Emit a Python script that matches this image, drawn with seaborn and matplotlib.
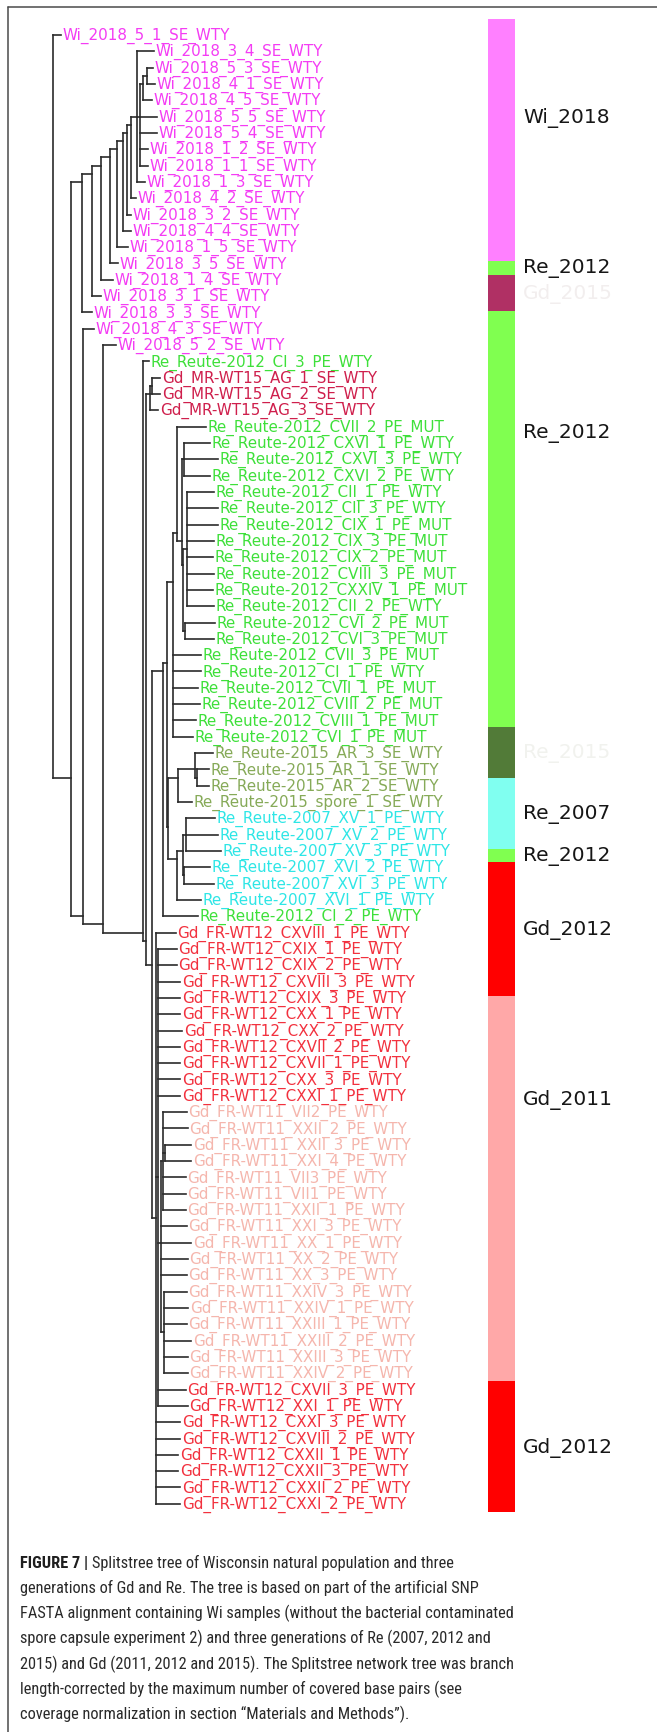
import numpy as np
import pandas as pd
import matplotlib
matplotlib.use("Agg")
import matplotlib.pyplot as plt
import seaborn as sns
from matplotlib import font_manager
from matplotlib.lines import Line2D
from matplotlib.transforms import blended_transform_factory

# ---------------------------------------------------------------- leaf labels
wi_2018 = ["Wi_2018_5_1_SE_WTY", "Wi_2018_3_4_SE_WTY", "Wi_2018_5_3_SE_WTY",
           "Wi_2018_4_1_SE_WTY", "Wi_2018_4_5_SE_WTY", "Wi_2018_5_5_SE_WTY",
           "Wi_2018_5_4_SE_WTY", "Wi_2018_1_2_SE_WTY", "Wi_2018_1_1_SE_WTY",
           "Wi_2018_1_3_SE_WTY", "Wi_2018_4_2_SE_WTY", "Wi_2018_3_2_SE_WTY",
           "Wi_2018_4_4_SE_WTY", "Wi_2018_1_5_SE_WTY", "Wi_2018_3_5_SE_WTY",
           "Wi_2018_1_4_SE_WTY", "Wi_2018_3_1_SE_WTY", "Wi_2018_3_3_SE_WTY",
           "Wi_2018_4_3_SE_WTY", "Wi_2018_5_2_SE_WTY"]
re_2012_first = ["Re_Reute-2012_CI_3_PE_WTY"]
gd_2015 = ["Gd_MR-WT15_AG_1_SE_WTY", "Gd_MR-WT15_AG_2_SE_WTY", "Gd_MR-WT15_AG_3_SE_WTY"]
re_2012_main = ["Re_Reute-2012_CVII_2_PE_MUT", "Re_Reute-2012_CXVI_1_PE_WTY",
                "Re_Reute-2012_CXVI_3_PE_WTY", "Re_Reute-2012_CXVI_2_PE_WTY",
                "Re_Reute-2012_CII_1_PE_WTY", "Re_Reute-2012_CII_3_PE_WTY",
                "Re_Reute-2012_CIX_1_PE_MUT", "Re_Reute-2012_CIX_3_PE_MUT",
                "Re_Reute-2012_CIX_2_PE_MUT", "Re_Reute-2012_CVIII_3_PE_MUT",
                "Re_Reute-2012_CXXIV_1_PE_MUT", "Re_Reute-2012_CII_2_PE_WTY",
                "Re_Reute-2012_CVI_2_PE_MUT", "Re_Reute-2012_CVI_3_PE_MUT",
                "Re_Reute-2012_CVII_3_PE_MUT", "Re_Reute-2012_CI_1_PE_WTY",
                "Re_Reute-2012_CVII_1_PE_MUT", "Re_Reute-2012_CVIII_2_PE_MUT",
                "Re_Reute-2012_CVIII_1_PE_MUT", "Re_Reute-2012_CVI_1_PE_MUT"]
re_2015 = ["Re_Reute-2015_AR_3_SE_WTY", "Re_Reute-2015_AR_1_SE_WTY",
           "Re_Reute-2015_AR_2_SE_WTY", "Re_Reute-2015_spore_1_SE_WTY"]
re_2007 = ["Re_Reute-2007_XV_1_PE_WTY", "Re_Reute-2007_XV_2_PE_WTY",
           "Re_Reute-2007_XV_3_PE_WTY", "Re_Reute-2007_XVI_2_PE_WTY",
           "Re_Reute-2007_XVI_3_PE_WTY", "Re_Reute-2007_XVI_1_PE_WTY"]
re_2012_last = ["Re_Reute-2012_CI_2_PE_WTY"]
gd_2012_first = ["Gd_FR-WT12_CXVIII_1_PE_WTY", "Gd_FR-WT12_CXIX_1_PE_WTY",
                 "Gd_FR-WT12_CXIX_2_PE_WTY", "Gd_FR-WT12_CXVIII_3_PE_WTY",
                 "Gd_FR-WT12_CXIX_3_PE_WTY", "Gd_FR-WT12_CXX_1_PE_WTY",
                 "Gd_FR-WT12_CXX_2_PE_WTY", "Gd_FR-WT12_CXVII_2_PE_WTY",
                 "Gd_FR-WT12_CXVII_1_PE_WTY", "Gd_FR-WT12_CXX_3_PE_WTY",
                 "Gd_FR-WT12_CXXI_1_PE_WTY"]
gd_2011 = ["Gd_FR-WT11_VII2_PE_WTY", "Gd_FR-WT11_XXII_2_PE_WTY", "Gd_FR-WT11_XXII_3_PE_WTY",
           "Gd_FR-WT11_XXI_4_PE_WTY", "Gd_FR-WT11_VII3_PE_WTY", "Gd_FR-WT11_VII1_PE_WTY",
           "Gd_FR-WT11_XXII_1_PE_WTY", "Gd_FR-WT11_XXI_3_PE_WTY", "Gd_FR-WT11_XX_1_PE_WTY",
           "Gd_FR-WT11_XX_2_PE_WTY", "Gd_FR-WT11_XX_3_PE_WTY", "Gd_FR-WT11_XXIV_3_PE_WTY",
           "Gd_FR-WT11_XXIV_1_PE_WTY", "Gd_FR-WT11_XXIII_1_PE_WTY", "Gd_FR-WT11_XXIII_2_PE_WTY",
           "Gd_FR-WT11_XXIII_3_PE_WTY", "Gd_FR-WT11_XXIV_2_PE_WTY"]
gd_2012_last = ["Gd_FR-WT12_CXVII_3_PE_WTY", "Gd_FR-WT12_XXI_1_PE_WTY",
                "Gd_FR-WT12_CXXI_3_PE_WTY", "Gd_FR-WT12_CXVIII_2_PE_WTY",
                "Gd_FR-WT12_CXXII_1_PE_WTY", "Gd_FR-WT12_CXXII_3_PE_WTY",
                "Gd_FR-WT12_CXXII_2_PE_WTY", "Gd_FR-WT12_CXXI_2_PE_WTY"]

leaf_blocks = [(wi_2018, "Wi_2018"), (re_2012_first, "Re_2012"), (gd_2015, "Gd_2015"),
               (re_2012_main, "Re_2012"), (re_2015, "Re_2015"), (re_2007, "Re_2007"),
               (re_2012_last, "Re_2012"), (gd_2012_first, "Gd_2012"), (gd_2011, "Gd_2011"),
               (gd_2012_last, "Gd_2012")]

# ---------------------------------------------------------------- tree (Newick, leaves = row index)
wi_crown = "(1:17.3,(((2:6.0,3:8.0):4.0,4:8.5):3.0,5:16.5,6:16.5,7:8.0,8:8.0):3.3,9:8.3)"
wi_grade = ("((((((((" + wi_crown + ":6.0,10:5.3):3.4,11:3.7):4.0,12:7.7):6.0,13:10.2)"
            ":7.3,14:7.5):9.0,15:12.0):9.3,16:9.3):10.0,17:10.3)")
gd_2015_clade = "((21:8.5,22:8.5):2.0,23:8.5)"
re_2012_clade = ("((24:28.5,((25:26.0,26:34.0,27:26.0):2.3,((28:27.3,29:30.8,30:30.8,31:27.3,"
                 "32:26.3,33:27.3,34:26.3,35:27.3):3.4,(36:30.0,37:29.0):1.7):1.6):4.7):3.7,"
                 "38:27.7,39:27.7,40:24.7,41:26.7,42:22.2,43:19.7)")
re_2015_clade = "((44:18.0,(45:12.3,46:12.3):1.7):16.7,47:13.2)"
re_2007_clade = "(((48:29.3,49:31.8,50:35.3):2.4,(51:25.7,52:29.7):1.0):6.6,53:24.3)"
re_clade = f"(({re_2012_clade}:6.6,({re_2015_clade}:10.0,{re_2007_clade}:8.4):1.6):3.4,54:34.7)"
gd_2011_a = "(66:23.2,67:24.2,(68:26.0,69:26.0):1.7,70:22.2,71:22.2,72:22.2)"
gd_2011_b = "(77:22.5,78:24.0,79:22.5,80:27.0,81:23.5,82:23.5)"
gd_2011_clade = f"({gd_2011_a}:2.8,73:26.0,74:30.5,75:27.0,76:26.0,{gd_2011_b}:3.5)"
gd_fr_clade = (f"(55:19.5,(56:18.2,57:18.2,58:21.7,59:21.7,60:21.7,61:23.7,62:21.7,63:21.7,"
               f"64:21.7,65:21.7,{gd_2011_clade}:2.2,83:27.2,84:29.2):2.3,"
               f"85:24.0,86:24.0,87:22.0,88:22.0,89:24.0,90:24.0)")
lower_clade = (f"(18:10.7,(19:12.7,(20:6.3,({gd_2015_clade}:3.5,"
               f"({re_clade}:11.6,{gd_fr_clade}:4.3):5.7):3.3):39.4):20.0)")
tree_newick = f"(0:8.3,({wi_grade}:11.0,{lower_clade}:12.6):18.0);"

# ---------------------------------------------------------------- side bar
bar_groups = ["Wi_2018", "Re_2012", "Gd_2015", "Re_2012", "Re_2015",
              "Re_2007", "Re_2012", "Gd_2012", "Gd_2011", "Gd_2012"]
bar_lengths = [14.83, 0.85, 2.2, 25.5, 3.1, 4.4, 0.8, 8.2, 23.6, 8.0]
bar_top = -0.98

caption_bold = "FIGURE 7 |"
caption_lines = [
    "Splitstree tree of Wisconsin natural population and three",
    "generations of Gd and Re. The tree is based on part of the artificial SNP",
    "FASTA alignment containing Wi samples (without the bacterial contaminated",
    "spore capsule experiment 2) and three generations of Re (2007, 2012 and",
    "2015) and Gd (2011, 2012 and 2015). The Splitstree network tree was branch",
    "length-corrected by the maximum number of covered base pairs (see",
    "coverage normalization in section \u201cMaterials and Methods\u201d).",
]

# ---------------------------------------------------------------- styles
label_colors = {"Wi_2018": "#F43CF4", "Re_2012": "#3EE03A", "Gd_2015": "#CF1F4C",
                "Re_2015": "#86AA58", "Re_2007": "#2EE6E6", "Gd_2012": "#F2313E",
                "Gd_2011": "#F5B6AD"}
bar_colors = {"Wi_2018": "#FF80FF", "Re_2012": "#80FF50", "Gd_2015": "#B03064",
              "Re_2015": "#527B38", "Re_2007": "#80FFF0", "Gd_2012": "#FF0000",
              "Gd_2011": "#FFA8A8"}
bar_text_colors = {"Gd_2015": "#F2EEEE", "Re_2015": "#F1F2EE"}

sns.set_theme(style="white")
plt.rcParams["font.family"] = ["DejaVu Sans"]

W, H = 657, 1733
ROOT_PX, ROW0_PX, ROW_PX = 52.7, 36.0, 16.32


# ---------------------------------------------------------------- parse and lay out the tree
def parse_newick(text):
    s = text.strip().rstrip(";")
    pos = 0

    def node():
        nonlocal pos
        nd = {"children": [], "length": 0.0, "leaf": None}
        if s[pos] == "(":
            pos += 1
            while True:
                nd["children"].append(node())
                if s[pos] == ",":
                    pos += 1
                    continue
                pos += 1  # ')'
                break
        else:
            start = pos
            while s[pos] not in ":,()":
                pos += 1
            nd["leaf"] = int(s[start:pos])
        if pos < len(s) and s[pos] == ":":
            pos += 1
            start = pos
            while pos < len(s) and s[pos] not in ",()":
                pos += 1
            nd["length"] = float(s[start:pos])
        return nd

    return node()


root = parse_newick(tree_newick)
leaf_order = []


def place(nd, x):
    nd["x"] = x
    if nd["leaf"] is not None:
        nd["y"] = float(nd["leaf"])
        leaf_order.append(nd)
        return [nd["y"]]
    ys = []
    for ch in nd["children"]:
        ys += place(ch, x + ch["length"])
    nd["y"] = float(np.mean(ys))
    return ys


place(root, 0.0)

rows = []
seg_id = 0


def collect(nd):
    global seg_id
    if nd["leaf"] is not None:
        return
    cy = [c["y"] for c in nd["children"]]
    rows.extend([(seg_id, nd["x"], min(cy)), (seg_id, nd["x"], max(cy))])
    seg_id += 1
    for c in nd["children"]:
        rows.extend([(seg_id, nd["x"], c["y"]), (seg_id, c["x"], c["y"])])
        seg_id += 1
        collect(c)


collect(root)
segments = pd.DataFrame(rows, columns=["seg", "x", "y"])

labels, groups = [], []
for names, grp in leaf_blocks:
    labels += names
    groups += [grp] * len(names)

# ---------------------------------------------------------------- figure
fig = plt.figure(figsize=(W / 100, H / 100), dpi=100)
fig.patch.set_facecolor("white")

ax = fig.add_axes([0, 0, 1, 1])
sns.lineplot(data=segments, x="x", y="y", units="seg", estimator=None, sort=False,
             color="#2b2b2b", linewidth=1.2, solid_capstyle="projecting",
             legend=False, ax=ax)
ylim = ((H - ROW0_PX) / ROW_PX, -ROW0_PX / ROW_PX)
ax.set_xlim(-ROOT_PX, W - ROOT_PX)
ax.set_ylim(*ylim)
ax.axis("off")

for nd in leaf_order:
    i = nd["leaf"]
    ax.text(nd["x"] + 1.8, nd["y"], labels[i], color=label_colors[groups[i]],
            fontsize=10.9, va="center", ha="left", family="DejaVu Sans")

# side bar of sample groups
bax = fig.add_axes([488 / W, 0, 27 / W, 1])
bax.set_xlim(0, 1)
bax.set_ylim(*ylim)
bax.axis("off")
starts = bar_top + np.concatenate([[0], np.cumsum(bar_lengths)[:-1]])
label_shift = [-1.4, 0, 0, -5.3, 0, 0, 0, 0, -5.5, 0]
btrans = blended_transform_factory(bax.transAxes, bax.transData)
for grp, start, length, shift in zip(bar_groups, starts, bar_lengths, label_shift):
    bax.bar(0.5, length, bottom=start, width=1.0, color=bar_colors[grp], linewidth=0)
    bax.text(35 / 27, start + length / 2 + shift, grp, transform=btrans,
             color=bar_text_colors.get(grp, "#161616"), fontsize=14.5,
             va="center", ha="left", clip_on=False)

# frame
fig.add_artist(Line2D([8 / W, 1], [1 - 8 / H, 1 - 8 / H], transform=fig.transFigure,
                      color="#4a4a4a", lw=1.1))
fig.add_artist(Line2D([8 / W, 8 / W], [0, 1 - 8 / H], transform=fig.transFigure,
                      color="#4a4a4a", lw=1.1))

# caption
installed = {f.name for f in font_manager.fontManager.ttflist}
cap_font = "Roboto"
for cand in ["Liberation Sans Narrow", "DejaVu Sans Condensed", "Roboto Condensed",
             "Open Sans Condensed"]:
    if cand in installed:
        cap_font = cand
        break

renderer = fig.canvas.get_renderer()
probe = fig.text(0, 0, caption_lines[4], fontsize=12, family=cap_font)
probe_w = probe.get_window_extent(renderer).width
probe.remove()
cap_size = min(12 * 496 / probe_w, 12.3)

x0 = 19.5 / W
for k, line in enumerate(caption_lines):
    yb = 1 - (1568 + k * 25.2) / H
    if k == 0:
        tb = fig.text(x0, yb, caption_bold, fontsize=cap_size, family=cap_font,
                      weight="bold", color="#1e1e1e", va="baseline")
        bw = tb.get_window_extent(renderer).width
        fig.text(x0 + (bw + 4) / W, yb, line, fontsize=cap_size, family=cap_font,
                 color="#2a2a2a", va="baseline")
    else:
        fig.text(x0, yb, line, fontsize=cap_size, family=cap_font,
                 color="#2a2a2a", va="baseline")

fig.savefig("out.png", dpi=100, facecolor="white")
